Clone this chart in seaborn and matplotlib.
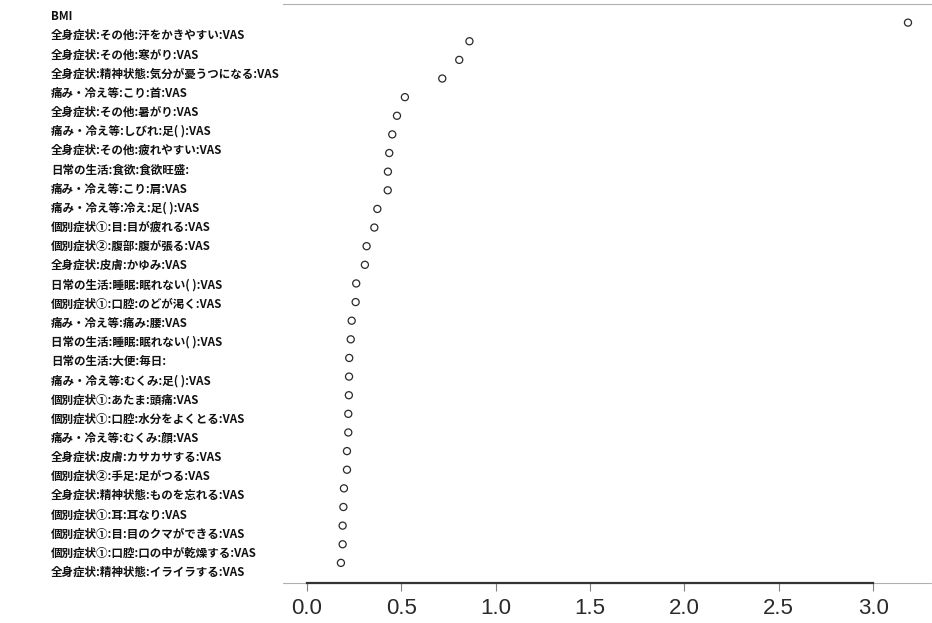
import numpy as np
import pandas as pd
import matplotlib
matplotlib.use("Agg")
import matplotlib.pyplot as plt
import seaborn as sns

# Variable importance, ordered from most to least important
features = [
    "BMI",
    "全身症状:その他:汗をかきやすい:VAS",
    "全身症状:その他:寒がり:VAS",
    "全身症状:精神状態:気分が憂うつになる:VAS",
    "痛み・冷え等:こり:首:VAS",
    "全身症状:その他:暑がり:VAS",
    "痛み・冷え等:しびれ:足( ):VAS",
    "全身症状:その他:疲れやすい:VAS",
    "日常の生活:食欲:食欲旺盛:",
    "痛み・冷え等:こり:肩:VAS",
    "痛み・冷え等:冷え:足( ):VAS",
    "個別症状①:目:目が疲れる:VAS",
    "個別症状②:腹部:腹が張る:VAS",
    "全身症状:皮膚:かゆみ:VAS",
    "日常の生活:睡眠:眠れない( ):VAS",
    "個別症状①:口腔:のどが渇く:VAS",
    "痛み・冷え等:痛み:腰:VAS",
    "日常の生活:睡眠:眠れない( ):VAS",
    "日常の生活:大便:毎日:",
    "痛み・冷え等:むくみ:足( ):VAS",
    "個別症状①:あたま:頭痛:VAS",
    "個別症状①:口腔:水分をよくとる:VAS",
    "痛み・冷え等:むくみ:顔:VAS",
    "全身症状:皮膚:カサカサする:VAS",
    "個別症状②:手足:足がつる:VAS",
    "全身症状:精神状態:ものを忘れる:VAS",
    "個別症状①:耳:耳なり:VAS",
    "個別症状①:目:目のクマができる:VAS",
    "個別症状①:口腔:口の中が乾燥する:VAS",
    "全身症状:精神状態:イライラする:VAS",
]
importance = [
    3.185, 0.861, 0.807, 0.717, 0.519, 0.477, 0.452, 0.436, 0.429, 0.428,
    0.373, 0.357, 0.316, 0.307, 0.261, 0.258, 0.237, 0.232, 0.224, 0.223,
    0.222, 0.219, 0.219, 0.212, 0.212, 0.196, 0.193, 0.189, 0.189, 0.180,
]
x_ticks = [0.0, 0.5, 1.0, 1.5, 2.0, 2.5, 3.0]
x_tick_labels = ["0.0", "0.5", "1.0", "1.5", "2.0", "2.5", "3.0"]

df = pd.DataFrame({"feature": features, "importance": importance,
                   "rank": np.arange(len(features))})

sns.set_style("white")
plt.rcParams["font.family"] = ["Noto Sans CJK JP", "DejaVu Sans"]

W, H = 932, 623
fig = plt.figure(figsize=(W / 100, H / 100), dpi=100)
left, right, top, bottom = 283, 931, 4, 583
ax = fig.add_axes([left / W, 1 - bottom / H, (right - left) / W, (bottom - top) / H])

sns.scatterplot(data=df, x="importance", y="rank", ax=ax, marker="o",
                s=26, facecolor="none", edgecolor="#2a2a2a", linewidth=0.9,
                legend=False)

ax.set_xlim(-0.127, 3.307)
ax.set_ylim(30.08, -1.0)

# Labels sit on a slightly wider line spacing than the dots
label_step, label_shift = 1.029, -0.413
ax.set_yticks(np.arange(len(features)) * label_step + label_shift)
ax.set_yticklabels(features, fontsize=8.3, fontweight="bold", color="#111")
for t in ax.get_yticklabels():
    t.set_horizontalalignment("left")
ax.tick_params(axis="y", left=False, length=0, pad=(left - 51) * 0.72)

ax.set_xticks(x_ticks)
ax.set_xticklabels(x_tick_labels, fontsize=16, family="Liberation Sans",
                   color="#2a2a2a")
ax.tick_params(axis="x", bottom=True, direction="out", length=6, width=0.8,
               color="#808080", pad=5)
ax.set_xlabel("")
ax.set_ylabel("")

# R-style axis: dark line spanning the ticks, faint frame around the plot
for side in ("left", "right"):
    ax.spines[side].set_visible(False)
ax.spines["top"].set_color("#b0b0b0")
ax.spines["top"].set_linewidth(0.8)
ax.spines["bottom"].set_color("#333")
ax.spines["bottom"].set_linewidth(1.6)
ax.spines["bottom"].set_bounds(0, 3)
ax.plot([0, 1], [0, 0], transform=ax.transAxes, color="#b0b0b0",
        linewidth=0.8, clip_on=False, zorder=0)

fig.savefig("out.png", dpi=100)
